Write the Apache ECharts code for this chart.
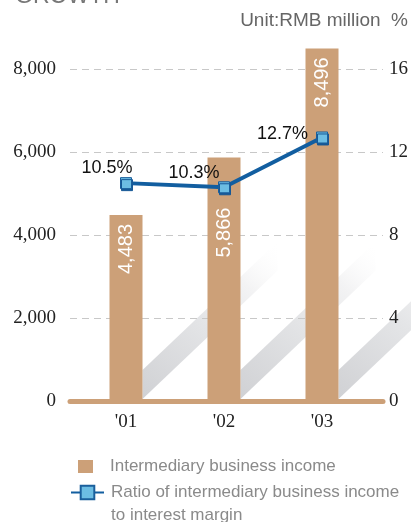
<!DOCTYPE html>
<html>
<head>
<meta charset="utf-8">
<script src="https://cdn.jsdelivr.net/npm/echarts@6/dist/echarts.min.js"></script>
<style>
  html, body { margin: 0; padding: 0; background: #ffffff; }
  #chart { width: 411px; height: 522px; }
</style>
</head>
<body>
<div id="chart"></div>
<script>
// Categories and series values
const years = ["'01", "'02", "'03"];
const incomeValues = [4483, 5866, 8496];      // RMB million
const ratioValues = [10.5, 10.3, 12.7];       // %

// Visible axis ranges
const incomeAxis = { min: 0, max: 8000, interval: 2000 };
const ratioAxis = { min: 0, max: 16, interval: 4 };

const incomeName = 'Intermediary business income';
const ratioName = 'Ratio of intermediary business income to interest margin';

// Layout: the tick frame spans FRAME_TOP..(H - BOTTOM); the data grid starts at the
// very top so the tallest bar is not cut, with its hidden axes stretched to match.
const H = 522;
const FRAME_TOP = 69;
const BOTTOM = 121;
const plotH = H - BOTTOM - FRAME_TOP;
const dataH = H - BOTTOM;
const incomeDataMax = incomeAxis.max * dataH / plotH;
const ratioDataMax = ratioAxis.max * dataH / plotH;

// Styling
const TAN = '#cca078';
const LINE_BLUE = '#125ea0';
const MARK_BLUE = '#6cbde3';
const BAR_W = 33;
const SHADOW_LEN = 135;
const serif = 'Liberation Serif';
const sans = 'Liberation Sans';

// Distance of each bar's value label below the bar top
const barLabelDistance = [9, 50, 9];
// Where each ratio label sits around its point
const ratioLabelPlacement = [
  { position: 'top', distance: 3, offset: [-19, 3] },
  { position: 'top', distance: 2, offset: [-30, 3] },
  { position: 'left', distance: 8, offset: [0, -3] }
];

const fmtThousands = v => String(v).replace(/\B(?=(\d{3})+(?!\d))/g, ',');

// Diagonal cast shadow to the right of each bar
function renderShadow(params, api) {
  const base = api.coord([api.value(0), 0]);
  const x0 = base[0] + BAR_W / 2;
  const y0 = base[1] - 2;
  const len = SHADOW_LEN;
  const slope = 0.95;
  const thick = 29;
  return {
    type: 'polygon',
    shape: {
      points: [
        [x0, y0],
        [x0 + len, y0 - len * slope],
        [x0 + len, y0 - len * slope - thick],
        [x0, y0 - thick]
      ]
    },
    style: {
      fill: new echarts.graphic.LinearGradient(0, 1, 1, 0, [
        { offset: 0, color: '#d0d1d4' },
        { offset: 0.48, color: '#e4e5e7' },
        { offset: 0.74, color: '#f3f3f4' },
        { offset: 1, color: 'rgba(255,255,255,0)' }
      ])
    },
    silent: true
  };
}

const chart = echarts.init(document.getElementById('chart'), null, { renderer: 'canvas' });

chart.setOption({
  animation: false,
  backgroundColor: '#ffffff',
  graphic: [
    {
      type: 'text', left: 15, top: -15,
      style: { text: 'GROWTH', font: '23px "Liberation Sans"', fill: '#777777' }
    },
    {
      type: 'text', right: 3, top: 11,
      style: { text: 'Unit:RMB million  %', font: '19px "Liberation Sans"', fill: '#666666' }
    }
  ],
  legend: [
    {
      data: [incomeName],
      left: 78, top: 458, padding: 0,
      itemWidth: 15, itemHeight: 13, icon: 'rect',
      textStyle: { fontFamily: sans, fontSize: 17, color: '#8a8a8a', padding: [0, 0, 0, 12] }
    },
    {
      data: [ratioName],
      left: 70, top: 458, padding: 0,
      itemWidth: 33, itemHeight: 17,
      // blank first line keeps the icon level with the first line of text
      formatter: name => '\n' + name.replace(' to ', '\nto '),
      textStyle: { fontFamily: sans, fontSize: 17, lineHeight: 23, color: '#8a8a8a', padding: [0, 0, 0, 2] }
    }
  ],
  grid: [
    { left: 70, right: 26, top: FRAME_TOP, bottom: BOTTOM },
    { left: 77, right: 40, top: 0, bottom: BOTTOM }
  ],
  xAxis: [
    {
      gridIndex: 0, type: 'category', data: years, z: 5,
      axisLine: { lineStyle: { color: TAN, width: 5 } },
      axisTick: { show: false }, axisLabel: { show: false }, splitLine: { show: false }
    },
    {
      gridIndex: 1, type: 'category', data: years,
      axisLine: { show: false }, axisTick: { show: false },
      axisLabel: { fontFamily: serif, fontSize: 19, color: '#222222', margin: 12 }
    }
  ],
  yAxis: [
    {
      gridIndex: 0, type: 'value', position: 'left', z: 5,
      min: incomeAxis.min, max: incomeAxis.max, interval: incomeAxis.interval,
      axisLine: { show: false }, axisTick: { show: false },
      axisLabel: { fontFamily: serif, fontSize: 19, color: '#222222', margin: 14, formatter: fmtThousands },
      splitLine: { lineStyle: { color: '#c8c8c8', width: 1, type: [7, 5] } }
    },
    {
      gridIndex: 0, type: 'value', position: 'right', z: 5,
      min: ratioAxis.min, max: ratioAxis.max, interval: ratioAxis.interval,
      axisLine: { show: false }, axisTick: { show: false },
      axisLabel: { fontFamily: serif, fontSize: 19, color: '#222222', margin: 6 },
      splitLine: { show: false }
    },
    {
      gridIndex: 1, type: 'value', show: false,
      min: 0, max: incomeDataMax,
      splitLine: { show: false }
    },
    {
      gridIndex: 1, type: 'value', show: false,
      min: 0, max: ratioDataMax,
      splitLine: { show: false }
    }
  ],
  series: [
    {
      type: 'custom',
      name: 'shadow',
      xAxisIndex: 1, yAxisIndex: 2,
      clip: false, silent: true, z: 0,
      renderItem: renderShadow,
      encode: { x: 0, y: 1 },
      data: incomeValues.map((v, i) => [i, v])
    },
    {
      type: 'bar',
      name: incomeName,
      xAxisIndex: 1, yAxisIndex: 2,
      barWidth: BAR_W, z: 6,
      itemStyle: { color: TAN },
      label: {
        show: true, position: 'insideTop',
        rotate: 90, align: 'right', verticalAlign: 'middle',
        color: '#ffffff', fontFamily: sans, fontSize: 20,
        formatter: p => fmtThousands(p.value)
      },
      data: incomeValues.map((v, i) => ({ value: v, label: { distance: barLabelDistance[i] } }))
    },
    {
      type: 'line',
      name: ratioName,
      xAxisIndex: 1, yAxisIndex: 3, z: 7,
      symbol: 'rect', symbolSize: 11,
      lineStyle: { color: LINE_BLUE, width: 4 },
      itemStyle: {
        color: MARK_BLUE, borderColor: '#1a5f9c', borderWidth: 1,
        shadowColor: '#165896', shadowOffsetX: 1, shadowOffsetY: 2, shadowBlur: 0
      },
      label: {
        show: true, color: '#111111', fontFamily: sans, fontSize: 18,
        formatter: p => p.value.toFixed(1) + '%'
      },
      data: ratioValues.map((v, i) => ({ value: v, label: ratioLabelPlacement[i] }))
    }
  ]
});
</script>
</body>
</html>
